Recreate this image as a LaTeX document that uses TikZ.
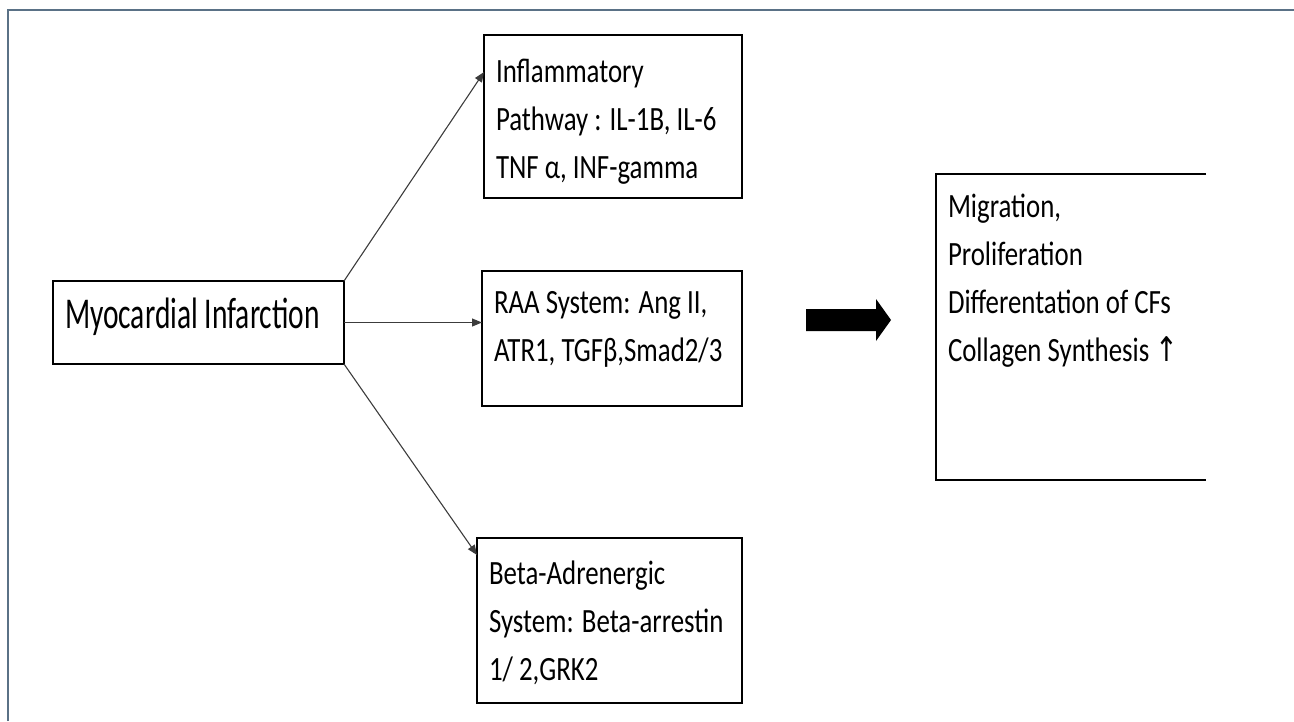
\documentclass[tikz,border=0pt]{standalone}
\usepackage{fontspec}
\newfontfamily\boxfont{Carlito}[FakeStretch=0.79]
\newfontfamily\mifont{Carlito}[FakeStretch=0.67]
\newfontfamily\arrowfont{DejaVu Sans}[FakeStretch=0.8]
\usetikzlibrary{arrows.meta}
\definecolor{framegray}{HTML}{5A7186}
\definecolor{linkgray}{HTML}{3C3C3C}
\tikzset{every node/.style={align=flush left, anchor=north west, outer sep=0pt,
           inner ysep=0pt, inner xsep=12pt},
         pathbox/.style={draw, line width=1.6pt,
           font=\boxfont\fontsize{34}{48}\selectfont},
         link/.style={draw=linkgray, line width=1.1pt,
           -{Triangle[length=10pt,width=8pt]}}}

\begin{document}
\begin{tikzpicture}[x=1pt, y=-1pt]
  \useasboundingbox (0,0) rectangle (1294,721);
  \draw[framegray, line width=2pt] (8,721) -- (8,10) -- (1294,10);

  \node [pathbox, font=\mifont\fontsize{44}{48}\selectfont,
    text width=267pt, text height=47pt, text depth=36pt] (mi) at (53,281)
    {Myocardial Infarction};

  \node [pathbox, text width=234pt, text height=47pt, text depth=116pt]
    (infl) at (484,35) {Inflammatory\\
    Pathway : IL-1B, IL-6\\
    TNF α, INF-gamma};
  \node [pathbox, text width=236pt, text height=42pt, text depth=93pt]
    (raa) at (482,271) {RAA System: Ang II,\\
    ATR1, TGFβ,Smad2/3};
  \node [pathbox, text width=241pt, text height=46pt, text depth=119pt]
    (beta) at (477,538) {Beta-Adrenergic\\
    System: Beta-arrestin\\
    1/ 2,GRK2};

  % open box on the right
  \node [pathbox, draw=none, text width=246pt, text height=43pt,
    text depth=263pt] (cfs) at (936,174) {Migration,\\
    Proliferation\\
    Differentation of CFs\\
    Collagen Synthesis {\arrowfont ↑}};
  \draw[line width=2.4pt] (cfs.north east) -- (cfs.north west)
    -- (cfs.south west) -- (cfs.south east);

  \draw[link] (mi.north east) -- ([yshift=-37pt]infl.north west);
  \draw[link] (mi.east) -- (raa.west |- mi.east);
  \draw[link] (mi.south east) -- ([yshift=-17pt]beta.north west);

  % block arrow
  \fill (806,309) -- (876,309) -- (876,299) -- (891,320) -- (876,341)
    -- (876,331) -- (806,331) -- cycle;
\end{tikzpicture}
\end{document}
